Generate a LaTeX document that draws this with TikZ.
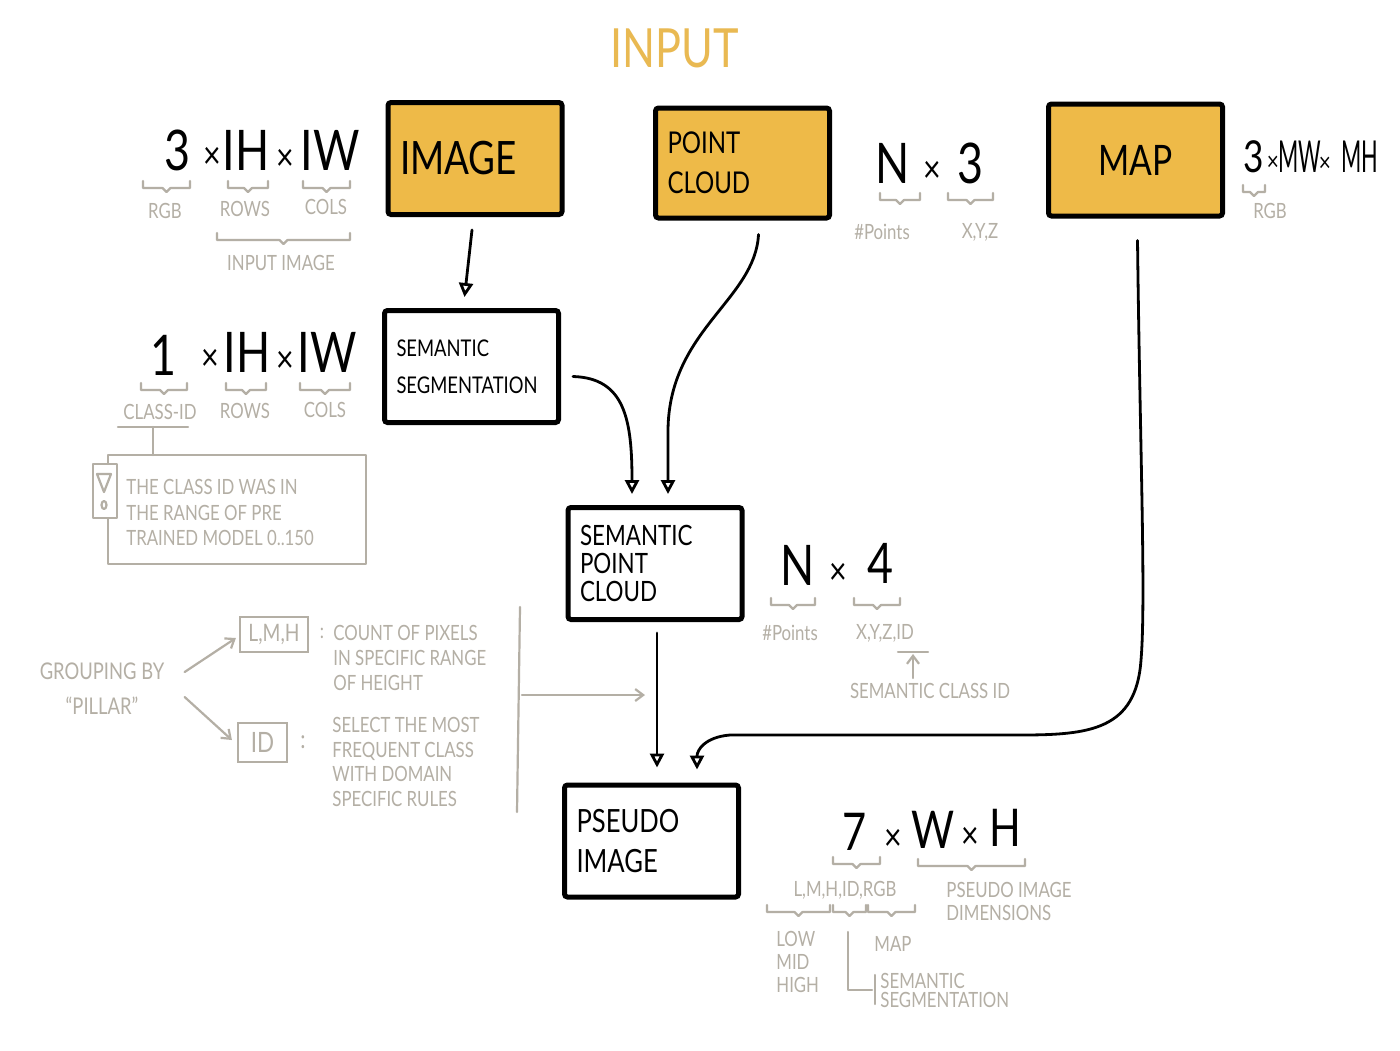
\documentclass[tikz,border=0pt]{standalone}
\usepackage{fontspec}
\usetikzlibrary{arrows.meta,calc}
\newfontfamily\hand[FakeStretch=0.8]{Lato}
\definecolor{yel}{HTML}{EEBA48}
\definecolor{gr}{HTML}{B4AFA5}
\definecolor{ttl}{HTML}{E9B952}
\newcommand\gbr[3]{\draw[gline] (#1,#3) -- (#1,#3+7) -- ({(#1+#2)/2-4},#3+7) -- ({(#1+#2)/2},#3+11) -- ({(#1+#2)/2+4},#3+7) -- (#2,#3+7) -- (#2,#3);}
\newcommand\nar[1]{\scalebox{0.62}[1]{#1}}
\tikzset{
 ybox/.style={draw=black, line width=2.5pt, rounded corners=1.5pt, fill=yel, minimum width=87pt, minimum height=56pt, inner sep=6pt, align=left, text width=75pt},
 wbox/.style={ybox, fill=white},
 arr/.style={line width=1.4pt, line cap=round, -{Triangle[open,length=7pt,width=7pt]}},
 gline/.style={draw=gr, line width=1.1pt, line cap=round, line join=round},
 garr/.style={gline, -{Straight Barb[length=4pt,width=6pt]}},
 gtext/.style={text=gr, font=\hand\fontsize{10.5}{12.5}\selectfont, inner sep=0pt, align=left},
 dim/.style={font=\hand\fontsize{28}{28}\selectfont, inner sep=0pt},
 tms/.style={font=\hand\fontsize{19}{19}\selectfont, inner sep=0pt},
 gbox/.style={draw=gr, line width=1.1pt, text=gr, font=\hand\fontsize{12}{12}\selectfont, inner sep=0pt},
}
\begin{document}
\begin{tikzpicture}[x=0.5pt,y=-0.5pt]
\fill[white] (0,0) rectangle (1400,1050);
\useasboundingbox (0,0) rectangle (1400,1050);

% title
\node[font=\hand\fontsize{27}{27}\selectfont, text=ttl, inner sep=0pt] (title) at (675,48) {INPUT};

% main boxes
\node[ybox, font=\hand\fontsize{23}{23}\selectfont] (img) at (475,158.5) {IMAGE};
\node[ybox, font=\hand\fontsize{15}{20}\selectfont, minimum height=55pt] (pc) at (742.5,163) {POINT\\CLOUD};
\node[ybox, align=center, font=\hand\fontsize{21}{21}\selectfont] (map) at (1135.5,160) {MAP};
\node[wbox, font=\hand\fontsize{11.5}{18.5}\selectfont] (ss) at (471.5,366.5) {SEMANTIC\\SEGMENTATION};
\node[wbox, font=\hand\fontsize{14}{14}\selectfont] (spc) at (655,563.5) {SEMANTIC\\POINT\\CLOUD};
\node[wbox, font=\hand\fontsize{16}{20}\selectfont] (ps) at (651.5,841) {PSEUDO\\IMAGE};

% arrows
\draw[arr] ($(img.south)+(-3,13)$) -- ($(ss.north)+(-7,-11)$);
\draw[arr] ($(pc.south)+(16,14)$) .. controls (755,300) and (669,330) .. (668,430) -- ($(spc.north)+(13,-11)$);
\draw[arr] ($(ss.east)+(12,10)$) .. controls (625,378) and (632,420) .. ($(spc.north)+(-23,-11)$);
\draw[arr] ($(spc.south)+(2,11)$) -- ($(ps.north)+(5.5,-15)$);
\draw[arr] ($(map.south)+(2,22)$) .. controls (1140,450) and (1146,600) .. (1141,660) .. controls (1136,730) and (1090,735) .. (1020,735) -- (730,735) .. controls (705,737) and (697,750) .. ($(ps.north)+(45.5,-13)$);

% image dims
\node[dim] (a1) at (177,150) {3};
\node[tms] (a2) at (212,158) {×};
\node[dim] (a3) at (246,150) {IH};
\node[tms] (a4) at (285,160) {×};
\node[dim] (a5) at (330,150) {IW};
\gbr{143}{190}{181}
\gbr{228}{268}{181}
\gbr{303}{350}{181}
\node[gtext] (a6) at (165,211) {RGB};
\node[gtext] (a7) at (245,209) {ROWS};
\node[gtext] (a8) at (326,207) {COLS};
\gbr{217}{350}{233}
\node[gtext] (a9) at (281,263) {INPUT IMAGE};

% semseg dims
\node[dim] (b1) at (163,355) {1};
\node[tms] (b2) at (210,360) {×};
\node[dim] (b3) at (247,352) {IH};
\node[tms] (b4) at (285,362) {×};
\node[dim] (b5) at (327,352) {IW};
\gbr{141}{187}{383}
\gbr{226}{266}{383}
\gbr{300}{350}{383}
\node[gtext] (b6) at (160,412) {CLASS-ID};
\node[gtext] (b7) at (245,411) {ROWS};
\node[gtext] (b8) at (325,410) {COLS};
\draw[gline] (118,427) -- (188,427);
\draw[gline] (153,427) -- (153,455);
\draw[gline] (108,455) rectangle (366,564);
\draw[gline, fill=white] (93,464) rectangle (117,518);
\draw[gline] (97,474) -- (111,474) -- (104,492) -- cycle;
\draw[gline] (104,505) ellipse (2.5 and 4);
\node[gtext, anchor=north west, font=\hand\fontsize{10.5}{12.8}\selectfont] (b9) at (126,479) {THE CLASS ID WAS IN\\THE RANGE OF PRE\\TRAINED MODEL 0..150};

% point cloud dims
\node[dim] (c1) at (893,163) {N};
\node[tms] (c2) at (932,172) {×};
\node[dim] (c3) at (970,163) {3};
\gbr{880}{920}{193}
\gbr{948}{993}{193}
\node[gtext] (c4) at (882,232) {\#Points};
\node[gtext] (c5) at (980,232) {X,Y,Z};

% map dims
\node[dim, font=\hand\fontsize{22}{22}\selectfont] (d1) at (1254,157) {3};
\node[tms, font=\hand\fontsize{13}{13}\selectfont] (d2) at (1273,163) {×};
\node[dim, font=\hand\fontsize{22}{22}\selectfont] (d3) at (1300,157) {\nar{MW}};
\node[tms, font=\hand\fontsize{13}{13}\selectfont] (d4) at (1325,164) {×};
\node[dim, font=\hand\fontsize{22}{22}\selectfont] (d5) at (1360,157) {\nar{MH}};
\gbr{1243}{1265}{185}
\node[gtext] (d6) at (1270,211) {RGB};

% semantic point cloud dims
\node[dim] (e1) at (798,565) {N};
\node[tms] (e2) at (838,574) {×};
\node[dim] (e3) at (880,563) {4};
\gbr{771}{815}{598}
\gbr{854}{900}{598}
\node[gtext] (e4) at (790,633) {\#Points};
\node[gtext] (e5) at (885,633) {X,Y,Z,ID};
\draw[gline] (898,652) -- (928,652);
\coordinate (e6a) at (913,678);
\coordinate (e6b) at (913,654);
\draw[garr] (e6a) -- (e6b);
\node[gtext] (e7) at (930,691) {SEMANTIC CLASS ID};

% grouping
\node[gtext, align=center, font=\hand\fontsize{11.5}{17.5}\selectfont] (grp) at (102,689) {GROUPING BY\\“PILLAR”};
\node[gbox, minimum width=34pt, minimum height=17.5pt] (lmh) at (274,634.5) {L,M,H};
\node[gbox, minimum width=24.5pt, minimum height=19.5pt, font=\hand\fontsize{14}{14}\selectfont] (idb) at (262.5,742.5) {ID};
\draw[garr] ($(grp.east)+(20,-17)$) -- ($(lmh.west)+(-3,3.5)$);
\draw[garr] ($(grp.east)+(20,8)$) -- ($(idb.west)+(-5,-2.5)$);
\node[gtext] (g1) at (322,633) {:};
\node[gtext, anchor=north west, font=\hand\fontsize{10.5}{12.5}\selectfont] (g2) at (333,625) {COUNT OF PIXELS\\IN SPECIFIC RANGE\\OF HEIGHT};
\node[gtext, font=\hand\fontsize{13}{13}\selectfont] (g3) at (303,742) {:};
\node[gtext, anchor=north west, font=\hand\fontsize{10.5}{12.3}\selectfont] (g4) at (332,717) {SELECT THE MOST\\FREQUENT CLASS\\WITH DOMAIN\\SPECIFIC RULES};
\draw[gline] (520,607) -- (517,812);
\coordinate (vl) at (522,695);
\coordinate (ve) at (645,695);
\draw[garr] (vl) -- (ve);

% pseudo image dims
\node[dim, font=\hand\fontsize{26}{26}\selectfont] (f1) at (855,832) {7};
\node[tms] (f2) at (893,840) {×};
\node[dim, font=\hand\fontsize{26}{26}\selectfont] (f3) at (933,830) {W};
\node[tms] (f4) at (970,838) {×};
\node[dim, font=\hand\fontsize{26}{26}\selectfont] (f5) at (1005,828) {H};
\gbr{833}{880}{857}
\gbr{918}{1025}{859}
\node[gtext] (f6) at (845,890) {L,M,H,ID,RGB};
\node[gtext, anchor=north west, font=\hand\fontsize{10.5}{11.5}\selectfont] (f7) at (946,882) {PSEUDO IMAGE\\DIMENSIONS};
\gbr{767}{830}{905}
\gbr{833}{866}{905}
\gbr{868}{915}{905}
\node[gtext, anchor=north west, font=\hand\fontsize{10.5}{11.5}\selectfont] (f8) at (776,931) {LOW\\MID\\HIGH};
\node[gtext] (f9) at (893,944) {MAP};
\draw[gline] (848,932) -- (848,990) -- (872,990);
\draw[gline] (875,975) -- (875,1004);
\node[gtext, anchor=north west, font=\hand\fontsize{10.5}{9.5}\selectfont] (f10) at (880,973) {SEMANTIC\\SEGMENTATION};
\end{tikzpicture}
\end{document}
